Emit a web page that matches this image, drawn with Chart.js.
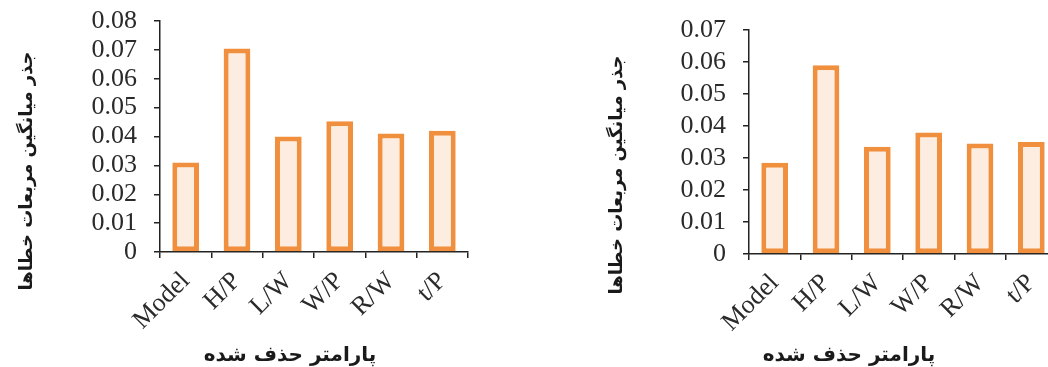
<!DOCTYPE html>
<html>
<head>
    <title>RMSE by removed parameter</title>
    <style>
        body {
            margin: 0;
            width: 1048px;
            height: 367px;
            overflow: hidden;
            background: #ffffff;
            position: relative;
        }
        canvas {
            position: absolute;
            top: 0;
        }
        #leftChart { left: 0; }
        #rightChart { left: 590px; }
    </style>
    <script src="https://cdn.jsdelivr.net/npm/chart.js"></script>
</head>
<body>
    <canvas id="leftChart" width="480" height="367"></canvas>
    <canvas id="rightChart" width="480" height="367"></canvas>
    <script>
        // data
        const categories = ['Model', 'H/P', 'L/W', 'W/P', 'R/W', 't/P'];
        const leftValues = [0.031, 0.0705, 0.040, 0.0453, 0.041, 0.042];
        const rightValues = [0.0285, 0.059, 0.0335, 0.038, 0.0345, 0.035];
        const leftTicks = { max: 0.08, step: 0.01 };
        const rightTicks = { max: 0.07, step: 0.01 };
        const yTitle = 'جذر میانگین مربعات خطاها';
        const xTitle = 'پارامتر حذف شده';

        const barBorder = '#F0903F';
        const barFill = '#FDEDE0';
        const axisColor = '#222222';
        const tickFont = { family: '"Liberation Serif", "Times New Roman", serif', size: 26 };

        // draws the persian axis titles where they sit in the figure
        const axisTitles = {
            id: 'axisTitles',
            afterDraw(chart, args, opts) {
                const ctx = chart.ctx;
                ctx.save();
                ctx.fillStyle = '#1a1a1a';
                ctx.textAlign = 'center';
                ctx.textBaseline = 'middle';
                ctx.font = 'bold 20px "DejaVu Sans", sans-serif';
                ctx.fillText(opts.xText, opts.xAt[0], opts.xAt[1]);
                ctx.font = 'bold 18px "DejaVu Sans", sans-serif';
                ctx.translate(opts.yAt[0], opts.yAt[1]);
                ctx.rotate(-Math.PI / 2);
                ctx.fillText(opts.yText, 0, 0);
                ctx.restore();
            }
        };

        function makeChart(id, values, yt, pad, yWidth, xHeight, titlePos) {
            const ctx = document.getElementById(id).getContext('2d');
            return new Chart(ctx, {
                type: 'bar',
                data: {
                    labels: categories,
                    datasets: [{
                        data: values,
                        backgroundColor: barFill,
                        borderColor: barBorder,
                        borderWidth: 5,
                        borderSkipped: false,
                        barPercentage: 0.52,
                        categoryPercentage: 1.0
                    }]
                },
                options: {
                    responsive: false,
                    animation: false,
                    devicePixelRatio: 1,
                    layout: { padding: pad },
                    plugins: {
                        legend: { display: false },
                        tooltip: { enabled: false },
                        axisTitles: {
                            xText: xTitle,
                            yText: yTitle,
                            xAt: titlePos.x,
                            yAt: titlePos.y
                        }
                    },
                    scales: {
                        x: {
                            afterFit: s => { s.height = xHeight; },
                            border: { color: axisColor, width: 1.5 },
                            grid: {
                                drawOnChartArea: false,
                                drawTicks: true,
                                tickLength: 6,
                                color: axisColor,
                                lineWidth: 1.5
                            },
                            ticks: {
                                font: tickFont,
                                color: '#2a2a2a',
                                minRotation: 45,
                                maxRotation: 45,
                                padding: 8
                            }
                        },
                        y: {
                            min: 0,
                            max: yt.max,
                            afterFit: s => {
                                s.width = yWidth;
                                // let layout.padding alone decide the plot top
                                s.paddingTop = 0;
                                s.paddingBottom = 0;
                            },
                            border: { color: axisColor, width: 1.5 },
                            grid: {
                                drawOnChartArea: false,
                                drawTicks: true,
                                tickLength: 6,
                                color: axisColor,
                                lineWidth: 1.5
                            },
                            ticks: {
                                stepSize: yt.step,
                                autoSkip: false,
                                font: tickFont,
                                color: '#2a2a2a',
                                padding: 17,
                                callback: v => v === 0 ? '0' : Number(v).toFixed(2)
                            }
                        }
                    }
                },
                plugins: [axisTitles]
            });
        }

        makeChart('leftChart', leftValues, leftTicks,
            { left: 0, right: 12, top: 21, bottom: 0 }, 160, 115,
            { x: [290, 356], y: [27, 171] });

        makeChart('rightChart', rightValues, rightTicks,
            { left: 0, right: 13, top: 30, bottom: 0 }, 159, 113,
            { x: [259, 356], y: [27, 175] });
    </script>
</body>
</html>
